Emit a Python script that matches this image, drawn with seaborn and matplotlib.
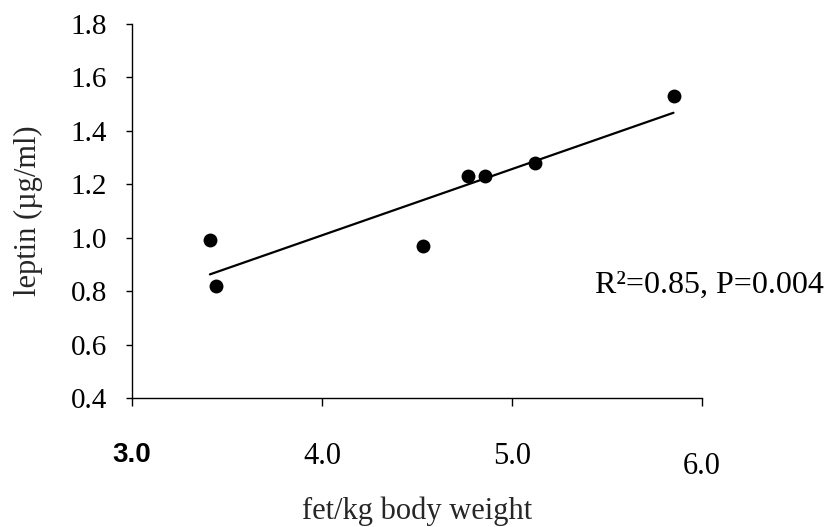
import matplotlib
matplotlib.use("Agg")
import matplotlib.pyplot as plt
import matplotlib.transforms as mtransforms
import seaborn as sns
import pandas as pd

# values
fat_per_kg = [3.41, 3.44, 4.53, 4.77, 4.86, 5.12, 5.85]
leptin = [0.99, 0.82, 0.97, 1.23, 1.23, 1.28, 1.53]

x_ticks = [3.0, 4.0, 5.0, 6.0]
x_tick_labels = ["3.0", "4.0", "5.0", "6.0"]
y_ticks = [0.4, 0.6, 0.8, 1.0, 1.2, 1.4, 1.6, 1.8]
y_tick_labels = ["0.4", "0.6", "0.8", "1.0", "1.2", "1.4", "1.6", "1.8"]

stats_text = "R\u00b2=0.85, P=0.004"

df = pd.DataFrame({"fat": fat_per_kg, "leptin": leptin})

sns.set_style("ticks")
plt.rcParams["font.family"] = ["Liberation Serif", "DejaVu Serif"]

fig = plt.figure(figsize=(8.32, 5.27), dpi=100)
fig.subplots_adjust(left=132 / 832, right=702 / 832,
                    bottom=1 - 398 / 527, top=1 - 24 / 527)
ax = fig.add_subplot(111)

sns.regplot(data=df, x="fat", y="leptin", ci=None, color="black", ax=ax,
            scatter_kws={"s": 100, "linewidths": 0, "alpha": 1},
            line_kws={"lw": 1.6})

ax.set_xlim(3.0, 6.0)
ax.set_ylim(0.4, 1.8)
ax.set_xticks(x_ticks)
ax.set_xticklabels(x_tick_labels)
ax.set_yticks(y_ticks)
ax.set_yticklabels(y_tick_labels)

for side in ["top", "right"]:
    ax.spines[side].set_visible(False)
for side in ["left", "bottom"]:
    ax.spines[side].set_color("black")
    ax.spines[side].set_linewidth(1.0)

ax.tick_params(axis="x", direction="out", length=6, width=1, pad=26,
               labelsize=22, colors="black")
ax.tick_params(axis="y", direction="out", length=4, width=1, pad=14,
               labelsize=21, colors="black")

# the first x label is set in a bold sans face in the original
first = ax.get_xticklabels()[0]
first.set_fontfamily("Liberation Sans")
first.set_fontweight("bold")
first.set_fontsize(20)

# the last x label sits a bit lower
last = ax.get_xticklabels()[-1]
last.set_transform(last.get_transform() +
                   mtransforms.ScaledTranslation(0, -10 / 100, fig.dpi_scale_trans))

ax.set_xlabel("fet/kg body weight", fontsize=22, labelpad=11)
ax.set_ylabel("leptin (\u00b5g/ml)", fontsize=22, labelpad=20)

ax.text(0.812, 0.281, stats_text, transform=ax.transAxes, fontsize=23,
        ha="left", va="baseline", color="black")

fig.savefig("out.png", dpi=100, facecolor="white")
